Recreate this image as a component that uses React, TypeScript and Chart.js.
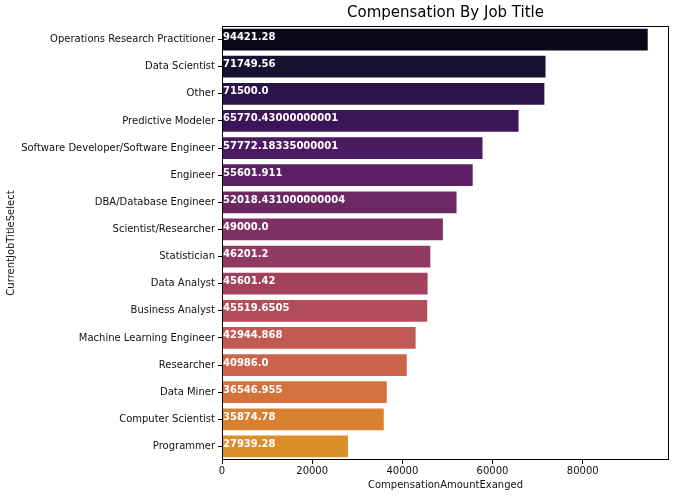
import { useEffect, useRef } from "react";
import { Chart, registerables } from "chart.js";

Chart.register(...registerables);

const jobTitles = [
  "Operations Research Practitioner",
  "Data Scientist",
  "Other",
  "Predictive Modeler",
  "Software Developer/Software Engineer",
  "Engineer",
  "DBA/Database Engineer",
  "Scientist/Researcher",
  "Statistician",
  "Data Analyst",
  "Business Analyst",
  "Machine Learning Engineer",
  "Researcher",
  "Data Miner",
  "Computer Scientist",
  "Programmer",
];

const compensation = [
  94421.28, 71749.56, 71500.0, 65770.43000000001, 57772.18335000001, 55601.911,
  52018.431000000004, 49000.0, 46201.2, 45601.42, 45519.6505, 42944.868, 40986.0,
  36546.955, 35874.78, 27939.28,
];

const valueLabels = [
  "94421.28",
  "71749.56",
  "71500.0",
  "65770.43000000001",
  "57772.18335000001",
  "55601.911",
  "52018.431000000004",
  "49000.0",
  "46201.2",
  "45601.42",
  "45519.6505",
  "42944.868",
  "40986.0",
  "36546.955",
  "35874.78",
  "27939.28",
];

const xTickValues = [0, 20000, 40000, 60000, 80000];
const xMax = 99142;

const barColors = [
  "rgb(9,8,24)",
  "rgb(24,16,49)",
  "rgb(42,20,73)",
  "rgb(60,21,89)",
  "rgb(75,26,96)",
  "rgb(91,31,99)",
  "rgb(109,40,100)",
  "rgb(127,48,101)",
  "rgb(144,57,99)",
  "rgb(162,66,95)",
  "rgb(178,77,91)",
  "rgb(193,89,84)",
  "rgb(203,100,74)",
  "rgb(212,114,62)",
  "rgb(217,128,49)",
  "rgb(220,143,41)",
];

const chartTitle = "Compensation By Job Title";
const xTitle = "CompensationAmountExanged";
const yTitle = "CurrentJobTitleSelect";

const FONT = '"DejaVu Sans", "Liberation Sans", sans-serif';
const TEXT = "#111";

const decorPlugin = {
  id: "decor",
  afterDatasetsDraw(chart: any) {
    const { ctx, chartArea: a } = chart;
    ctx.save();
    // value labels on bars
    const meta = chart.getDatasetMeta(0);
    const x0 = chart.scales.x.getPixelForValue(0);
    ctx.font = `bold 10px ${FONT}`;
    ctx.fillStyle = "#ffffff";
    ctx.textAlign = "left";
    ctx.textBaseline = "alphabetic";
    meta.data.forEach((bar: any, i: number) => {
      ctx.fillText(valueLabels[i], x0 + 1, bar.y + 0.5);
    });
    // frame
    const l = Math.round(a.left);
    const t = Math.round(a.top);
    const r = Math.round(a.right);
    const b = Math.round(a.bottom);
    ctx.strokeStyle = "#000";
    ctx.lineWidth = 1;
    ctx.strokeRect(l + 0.5, t + 0.5, r - l - 1, b - t - 1);
    // title
    ctx.font = `15px ${FONT}`;
    ctx.fillStyle = "#000";
    ctx.textAlign = "center";
    ctx.textBaseline = "middle";
    ctx.fillText(chartTitle, (a.left + a.right) / 2, 13);
    ctx.restore();
  },
};

export default function App() {
  const ref = useRef<HTMLCanvasElement | null>(null);

  useEffect(() => {
    if (!ref.current) return;
    const chart = new Chart(ref.current, {
      type: "bar",
      data: {
        labels: jobTitles,
        datasets: [
          {
            data: compensation,
            backgroundColor: barColors,
            borderWidth: 0,
            barPercentage: 0.8,
            categoryPercentage: 1.0,
          },
        ],
      },
      options: {
        indexAxis: "y",
        animation: false,
        responsive: false,
        devicePixelRatio: 1,
        layout: { padding: { left: 0, right: 10, top: 26, bottom: 0 } },
        plugins: {
          legend: { display: false },
          title: { display: false },
          tooltip: { enabled: false },
        },
        scales: {
          x: {
            type: "linear",
            min: 0,
            max: xMax,
            afterBuildTicks: (s: any) => {
              s.ticks = xTickValues.map((v) => ({ value: v }));
            },
            afterFit: (s: any) => {
              s.height = 38;
            },
            border: { display: false },
            grid: {
              display: true,
              drawOnChartArea: false,
              drawTicks: true,
              tickLength: 4,
              color: "#000",
              tickWidth: 1,
            },
            ticks: {
              padding: 1,
              color: TEXT,
              font: { family: FONT, size: 10 },
              maxRotation: 0,
              callback: (v: any) => String(v),
            },
            title: {
              display: true,
              text: xTitle,
              color: TEXT,
              font: { family: FONT, size: 10 },
              padding: { top: 0, bottom: 7 },
            },
          },
          y: {
            type: "category",
            offset: true,
            afterFit: (s: any) => {
              s.width = 222;
            },
            border: { display: false },
            grid: {
              display: true,
              offset: false,
              drawOnChartArea: false,
              drawTicks: true,
              tickLength: 4,
              color: "#000",
              tickWidth: 1,
            },
            ticks: {
              padding: 3,
              color: TEXT,
              font: { family: FONT, size: 10 },
              autoSkip: false,
            },
            title: {
              display: true,
              text: yTitle,
              color: TEXT,
              font: { family: FONT, size: 10 },
              padding: { top: 5, bottom: 0 },
            },
          },
        },
      },
      plugins: [decorPlugin],
    });
    return () => chart.destroy();
  }, []);

  return (
    <div
      style={{
        position: "fixed",
        left: 0,
        top: 0,
        width: 679,
        height: 498,
        background: "#fff",
      }}
    >
      <canvas ref={ref} width={679} height={498} style={{ display: "block" }} />
    </div>
  );
}
